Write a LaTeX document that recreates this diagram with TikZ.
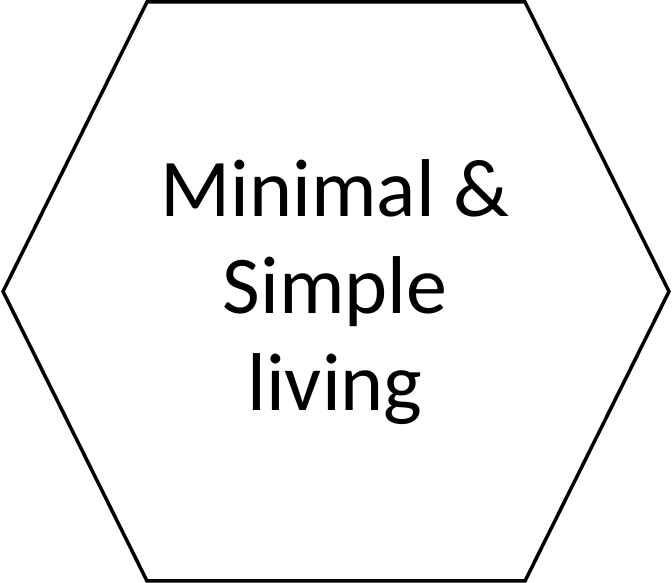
\documentclass[tikz,border=0pt]{standalone}
\usepackage{fontspec}
\setmainfont{Carlito}
\begin{document}
\begin{tikzpicture}[x=1pt,y=1pt]
  \useasboundingbox (0,0) rectangle (672,583);
  % hexagon outline
  \draw[line width=3.5pt] (147,581) -- (525,581) -- (669,291.5) -- (525,2) -- (147,2) -- (3,291.5) -- cycle;
  \node[align=center, font=\fontsize{82}{97}\selectfont] (label) at (335,291) {Minimal \&\\Simple\\living};
\end{tikzpicture}
\end{document}
